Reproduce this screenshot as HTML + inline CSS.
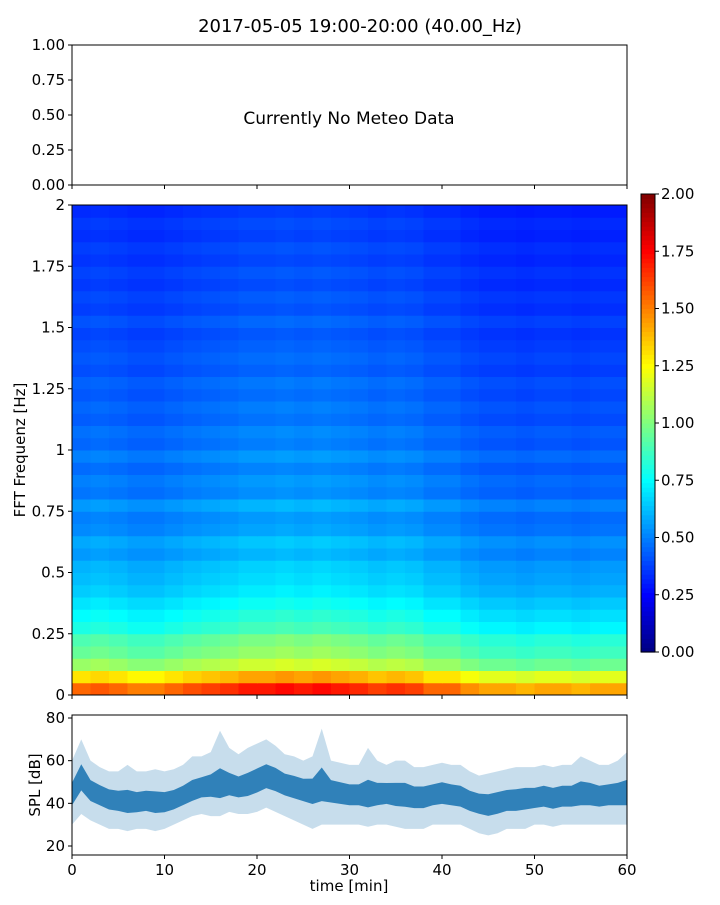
<!DOCTYPE html>
<html><head><meta charset="utf-8"><style>
body{margin:0;background:#fff;font-family:"Liberation Sans",sans-serif;}
svg text{font-family:"DejaVu Sans","Liberation Sans",sans-serif;fill:#000;}
</style></head><body>
<svg id="fig" width="720" height="900" xmlns="http://www.w3.org/2000/svg">
<text x="360" y="32" font-size="18" text-anchor="middle">2017-05-05 19:00-20:00 (40.00_Hz)</text>
<g id="topPanel"></g>
<g id="spec"></g>
<g id="cbar"></g>
<g id="spl"></g>
</svg>
<script>
const freqProfile=[1.55,1.3,1.05,0.95,0.9,0.8,0.75,0.7,0.65,0.62,0.6,0.55,0.58,0.52,0.5,0.55,0.48,0.5,0.46,0.5,0.45,0.47,0.43,0.45,0.42,0.44,0.4,0.42,0.4,0.38,0.41,0.37,0.39,0.36,0.38,0.35,0.37,0.34,0.36,0.33];
const timeFactor=[1.0,1.02,1.0,0.97,0.97,1.0,1.03,1.05,1.07,1.1,1.1,1.12,1.1,1.12,1.1,1.08,1.05,1.07,1.05,1.0,1.0,0.95,0.92,0.92,0.9,0.92,0.92,0.9,0.92,0.92];
const splMean=[44,52,46,44,42,41,40,40,41,40,40,41,43,45,47,48,47,48,47,48,50,52,51,49,48,47,46,47,46,45,44,44,43,44,45,44,44,43,43,44,45,44,43,41,40,39,40,41,41,42,42,43,42,43,43,44,44,43,44,44,44];
const splHigh=[60,70,60,57,55,55,58,55,55,56,55,56,58,62,62,64,74,66,63,66,68,70,67,63,62,60,62,75,60,59,58,58,66,60,58,60,60,57,57,58,59,58,58,55,53,54,55,56,57,57,57,58,57,58,58,62,60,58,58,60,64];
const splLow=[30,35,32,30,28,28,27,28,28,27,28,30,32,34,35,34,34,36,35,35,36,38,36,34,32,30,28,30,30,30,30,30,29,30,30,29,28,28,28,30,30,30,30,28,26,25,26,28,28,28,30,30,29,30,30,30,30,30,30,30,30];
const xTicks=[0,10,20,30,40,50,60];
const specTicks=[0,0.25,0.5,0.75,1,1.25,1.5,1.75,2];
const specTickLabels=["0","0.25","0.5","0.75","1","1.25","1.5","1.75","2"];
const topTicks=["0.00","0.25","0.50","0.75","1.00"];
const cbTicks=["0.00","0.25","0.50","0.75","1.00","1.25","1.50","1.75","2.00"];
const splTicks=[20,40,60,80];

const NS="http://www.w3.org/2000/svg";
function mk(p,t,a){const e=document.createElementNS(NS,t);for(const k in a)e.setAttribute(k,a[k]);p.appendChild(e);return e;}
const L=72,R=627;
const X=t=>L+t/60*(R-L);
function jet(t){t=Math.max(0,Math.min(1,t));const c=v=>Math.round(255*Math.max(0,Math.min(1,v)));
return `rgb(${c(1.5-Math.abs(4*t-3))},${c(1.5-Math.abs(4*t-2))},${c(1.5-Math.abs(4*t-1))})`;}
function frame(g,y0,y1){const r=mk(g,'rect',{x:L,y:y0,width:R-L,height:y1-y0,fill:'none',stroke:'#000','stroke-width':1});}
function xt(g,y,labels){xTicks.forEach(t=>{mk(g,'line',{x1:X(t),x2:X(t),y1:y,y2:y+4,stroke:'#000'});if(labels){const tx=mk(g,'text',{x:X(t),y:y+20,'font-size':15,'text-anchor':'middle'});tx.textContent=t;}});}
function yt(g,ypx,lab,xr){mk(g,'line',{x1:xr-4,x2:xr,y1:ypx,y2:ypx,stroke:'#000'});const tx=mk(g,'text',{x:xr-7,y:ypx+5,'font-size':15,'text-anchor':'end'});tx.textContent=lab;}

const topG=document.getElementById('topPanel');
frame(topG,45,185);xt(topG,185,false);
topTicks.forEach((l,i)=>yt(topG,185-i*35,l,L));
const nm=mk(topG,'text',{x:349,y:124,'font-size':17,'text-anchor':'middle'});nm.textContent='Currently No Meteo Data';


const specG=document.getElementById('spec');
const S0=695,S1=205;const FY=f=>S0-f/2*(S0-S1);
const nf=freqProfile.length,nt=timeFactor.length;
for(let i=0;i<nf;i++)for(let j=0;j<nt;j++){
 const v=freqProfile[i]*timeFactor[j];
 const y1=FY(i*2/nf),y2=FY((i+1)*2/nf);
 const r=mk(specG,'rect',{x:X(j*60/nt),y:y2,width:X((j+1)*60/nt)-X(j*60/nt)+0.5,height:y1-y2+0.5,fill:jet(v/2)});
 
}
frame(specG,S1,S0);xt(specG,S0,false);
specTicks.forEach((f,i)=>yt(specG,FY(f),specTickLabels[i],L));
const yl=mk(specG,'text',{x:0,y:0,'font-size':15,'text-anchor':'middle',transform:'translate(25,450) rotate(-90)'});yl.textContent='FFT Frequenz [Hz]';


const cb=document.getElementById('cbar');
const C0=652,C1=194;
for(let k=0;k<100;k++){const y=C0-(k+1)*(C0-C1)/100;mk(cb,'rect',{x:641,y:y,width:14,height:(C0-C1)/100+0.6,fill:jet((k+0.5)/100)});}
mk(cb,'rect',{x:641,y:C1,width:14,height:C0-C1,fill:'none',stroke:'#000'});
cbTicks.forEach((l,i)=>{const y=C0-i*(C0-C1)/8;mk(cb,'line',{x1:655,x2:659,y1:y,y2:y,stroke:'#000'});const t=mk(cb,'text',{x:661,y:y+5,'font-size':15});t.textContent=l;});

const splG=document.getElementById('spl');
const P0=855,P1=715;const PY=v=>846-(v-20)*(846-718)/60;
let up='',dn='',mu='',md='';
splHigh.forEach((v,i)=>{up+=`${X(i)},${PY(v)} `;});
for(let i=splLow.length-1;i>=0;i--)dn+=`${X(i)},${PY(splLow[i])} `;
splMean.forEach((v,i)=>{mu+=`${X(i)},${PY(v+(splHigh[i]-v)*0.35)} `;});
for(let i=splMean.length-1;i>=0;i--)md+=`${X(i)},${PY(splMean[i]-(splMean[i]-splLow[i])*0.35)} `;
const b1=mk(splG,'polygon',{points:up+dn,fill:'#1f77b4','fill-opacity':0.25});
const b2=mk(splG,'polygon',{points:mu+md,fill:'#1f77b4','fill-opacity':0.9});
frame(splG,P1,P0);xt(splG,P0,true);
splTicks.forEach(v=>yt(splG,PY(v),String(v),L));
const sl=mk(splG,'text',{x:0,y:0,'font-size':15,'text-anchor':'middle',transform:'translate(40,785) rotate(-90)'});sl.textContent='SPL [dB]';

const xl=mk(splG,'text',{x:349,y:891,'font-size':15,'text-anchor':'middle'});xl.textContent='time [min]';

</script>
</body></html>
